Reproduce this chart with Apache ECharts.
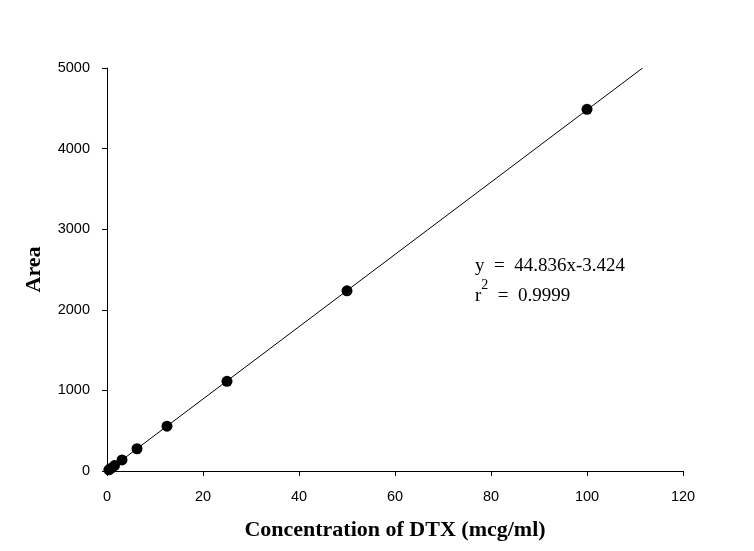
<!DOCTYPE html>
<html><head><meta charset="utf-8">
<script src="https://cdn.jsdelivr.net/npm/echarts@6/dist/echarts.min.js"></script>
<style>html,body{margin:0;padding:0;background:#fff}#c{width:754px;height:551px}</style>
</head><body><div id="c"></div>
<script>
const concentrations = [0.39, 0.78, 1.5625, 3.125, 6.25, 12.5, 25, 50, 100];
const areas = [14, 32, 68, 137, 276, 556, 1112, 2236, 4488];
const slope = 44.836, intercept = -3.424;
const fitX = [0, 111.6];
const xTicks = [0, 20, 40, 60, 80, 100, 120];
const yTicks = [0, 1000, 2000, 3000, 4000, 5000];

const chart = echarts.init(document.getElementById('c'));
chart.setOption({
  animation: false,
  backgroundColor: '#fff',
  grid: {left: 107, right: 71, top: 68, bottom: 80},
  xAxis: {
    type: 'value', min: xTicks[0], max: xTicks[xTicks.length - 1], interval: 20,
    name: 'Concentration of DTX (mcg/ml)', nameLocation: 'middle', nameGap: 48,
    nameTextStyle: {fontFamily: 'Liberation Serif', fontWeight: 'bold', fontSize: 22, color: '#000'},
    axisLine: {lineStyle: {color: '#000', width: 1}},
    axisTick: {show: true, length: 5, lineStyle: {color: '#000'}},
    axisLabel: {fontFamily: 'Liberation Sans', fontSize: 14.5, color: '#000', margin: 18},
    splitLine: {show: false}
  },
  yAxis: {
    type: 'value', min: yTicks[0], max: yTicks[yTicks.length - 1], interval: 1000,
    name: 'Area', nameLocation: 'middle', nameGap: 62, nameRotate: 90,
    nameTextStyle: {fontFamily: 'Liberation Serif', fontWeight: 'bold', fontSize: 22, color: '#000'},
    axisLine: {show: true, lineStyle: {color: '#000', width: 1}},
    axisTick: {show: true, length: 5, lineStyle: {color: '#000'}},
    axisLabel: {fontFamily: 'Liberation Sans', fontSize: 14.5, color: '#000', margin: 17, formatter: v => String(v)},
    splitLine: {show: false}
  },
  series: [
    {
      type: 'line', data: fitX.map(x => [x, slope * x + intercept]),
      showSymbol: false, symbol: 'none', lineStyle: {color: '#000', width: 1}, silent: true
    },
    {
      type: 'scatter', data: concentrations.map((c, i) => [c, areas[i]]),
      symbol: 'circle', symbolSize: 11, itemStyle: {color: '#000', opacity: 1}
    }
  ],
  graphic: [
    {type: 'text', left: 475, top: 257, style: {text: 'y  =  44.836x-3.424', font: '19px "Liberation Serif"', fill: '#000'}},
    {type: 'text', left: 475, top: 278, style: {
      text: '{a|r}{s|2}{a|  =  0.9999}',
      rich: {a: {font: '19px "Liberation Serif"', fill: '#000', verticalAlign: 'bottom'},
             s: {font: '14px "Liberation Serif"', fill: '#000', verticalAlign: 'top', padding: [0,0,14,0]}}
    }}
  ]
});
</script></body></html>
